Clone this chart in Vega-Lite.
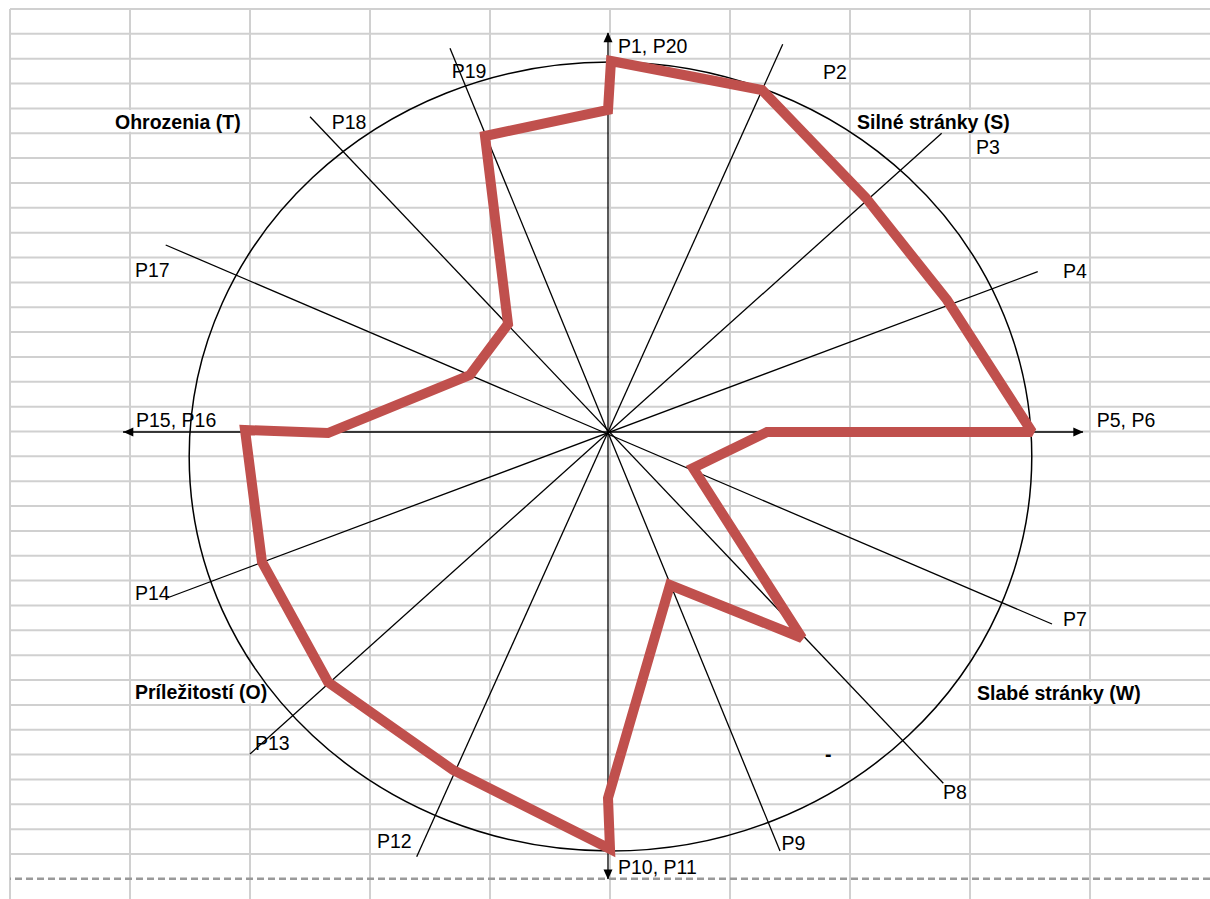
{
  "$schema": "https://vega.github.io/schema/vega-lite/v6.json",
  "width": 1200,
  "height": 890,
  "autosize": {"type": "none"},
  "padding": {"left": 10, "top": 9, "right": 0, "bottom": 0},
  "background": "white",
  "config": {"view": {"stroke": null}},
  "datasets": {
    "gridCols": [{"col": 0}, {"col": 1}, {"col": 2}, {"col": 3}, {"col": 4}, {"col": 5}, {"col": 6}, {"col": 7}, {"col": 8}, {"col": 9}],
    "gridRows": [{"row": 0}, {"row": 1}, {"row": 2}, {"row": 3}, {"row": 4}, {"row": 5}, {"row": 6}, {"row": 7}, {"row": 8}, {"row": 9}, {"row": 10}, {"row": 11}, {"row": 12}, {"row": 13}, {"row": 14}, {"row": 15}, {"row": 16}, {"row": 17}, {"row": 18}, {"row": 19}, {"row": 20}, {"row": 21}, {"row": 22}, {"row": 23}, {"row": 24}, {"row": 25}, {"row": 26}, {"row": 27}, {"row": 28}, {"row": 29}, {"row": 30}, {"row": 31}, {"row": 32}, {"row": 33}, {"row": 34}],
    "dashRows": [{"row": 35}],
    "masks": [
      {"c0": 0.875, "c1": 1.975, "r0": 4.06, "r1": 4.94},
      {"c0": 7.058, "c1": 8.35, "r0": 4.06, "r1": 4.94},
      {"c0": 1.0417, "c1": 2.183, "r0": 27.06, "r1": 27.94},
      {"c0": 8.058, "c1": 9.433, "r0": 27.06, "r1": 27.94}
    ],
    "pointLabels": [
      {"label": "P1, P20", "col": 5.0667, "row": 1.7704},
      {"label": "P2", "col": 6.775, "row": 2.8166},
      {"label": "P3", "col": 8.05, "row": 5.8343},
      {"label": "P4", "col": 8.775, "row": 10.8116},
      {"label": "P5, P6", "col": 9.0558, "row": 16.8068},
      {"label": "P7", "col": 8.775, "row": 24.826},
      {"label": "P8", "col": 7.775, "row": 31.799},
      {"label": "P9", "col": 6.4292, "row": 33.839},
      {"label": "P10, P11", "col": 5.0667, "row": 34.817},
      {"label": "P12", "col": 3.0583, "row": 33.77},
      {"label": "P13", "col": 2.0417, "row": 29.815},
      {"label": "P14", "col": 1.0417, "row": 23.78},
      {"label": "P15, P16", "col": 1.05, "row": 16.807},
      {"label": "P17", "col": 1.0417, "row": 10.796},
      {"label": "P18", "col": 2.6808, "row": 4.8284},
      {"label": "P19", "col": 3.6808, "row": 2.7884}
    ],
    "quadrantLabels": [
      {"label": "Ohrozenia (T)", "col": 0.875, "row": 4.8405},
      {"label": "Silné stránky (S)", "col": 7.0583, "row": 4.8284},
      {"label": "Príležitostí (O)", "col": 1.0417, "row": 27.775},
      {"label": "Slabé stránky (W)", "col": 8.0583, "row": 27.8034},
      {"label": "-", "col": 6.7917, "row": 30.278}
    ],
    "ellipse": [{"x": 0.0059, "y": -0.0659}],
    "spokes": [
      {"name": "P1-P10", "x": 0, "y": 1.0726, "x2": 0, "y2": -1.2016},
      {"name": "P5-P15", "x": -1.152, "y": 0, "x2": 1.1283, "y2": 0},
      {"name": "P2-P12", "x": 0.415, "y": 1.0422, "x2": -0.4544, "y2": -1.1417},
      {"name": "P3-P13", "x": 0.7926, "y": 0.803, "x2": -0.8504, "y2": -0.8656},
      {"name": "P4-P14", "x": 1.0207, "y": 0.4309, "x2": -1.0475, "y2": -0.4462},
      {"name": "P7-P17", "x": 1.0546, "y": -0.5161, "x2": -1.0506, "y2": 0.5027},
      {"name": "P8-P18", "x": 0.7965, "y": -0.9444, "x2": -0.7078, "y2": 0.8476},
      {"name": "P9-P19", "x": 0.4086, "y": -1.1263, "x2": -0.3753, "y2": 1.0315}
    ],
    "arrows": [
      {"dir": "up", "x": 0, "y": 1.061},
      {"dir": "down", "x": 0, "y": -1.1895},
      {"dir": "right", "x": 1.1171, "y": 0},
      {"dir": "left", "x": -1.1394, "y": 0}
    ],
    "polygon": [
      {"i": 1, "p": "P1", "x": 0.0071, "y": 0.9973},
      {"i": 2, "p": "P2", "x": 0.3658, "y": 0.9194},
      {"i": 3, "p": "P3", "x": 0.6128, "y": 0.629},
      {"i": 4, "p": "P4", "x": 0.8052, "y": 0.3548},
      {"i": 5, "p": "P5", "x": 1.0071, "y": 0},
      {"i": 6, "p": "P6", "x": 0.3777, "y": 0},
      {"i": 7, "p": "P7", "x": 0.2019, "y": -0.0968},
      {"i": 8, "p": "P8", "x": 0.4608, "y": -0.5538},
      {"i": 9, "p": "P9", "x": 0.1473, "y": -0.4113},
      {"i": 10, "p": "P10", "x": 0, "y": -0.9839},
      {"i": 11, "p": "P11", "x": 0.0048, "y": -1.121},
      {"i": 12, "p": "P12", "x": -0.3682, "y": -0.9086},
      {"i": 13, "p": "P13", "x": -0.6651, "y": -0.672},
      {"i": 14, "p": "P14", "x": -0.8219, "y": -0.3495},
      {"i": 15, "p": "P15", "x": -0.8622, "y": 0.0054},
      {"i": 16, "p": "P16", "x": -0.6651, "y": -0.0027},
      {"i": 17, "p": "P17", "x": -0.3278, "y": 0.1532},
      {"i": 18, "p": "P18", "x": -0.2375, "y": 0.2903},
      {"i": 19, "p": "P19", "x": -0.2922, "y": 0.7957},
      {"i": 20, "p": "P20", "x": 0, "y": 0.8656}
    ]
  },
  "resolve": {"scale": {"x": "independent", "y": "independent"}},
  "layer": [
    {
      "layer": [
        {
          "data": {"name": "gridCols"},
          "mark": {"type": "rule", "color": "#d0d0d0", "strokeWidth": 2},
          "encoding": {
            "x": {"field": "col", "type": "quantitative", "scale": {"domain": [0, 10], "nice": false, "zero": false}, "axis": null}
          }
        },
        {
          "data": {"name": "gridRows"},
          "mark": {"type": "rule", "color": "#d0d0d0", "strokeWidth": 2},
          "encoding": {
            "y": {"field": "row", "type": "quantitative", "scale": {"domain": [0, 35.8106], "nice": false, "zero": false, "reverse": true}, "axis": null}
          }
        },
        {
          "data": {"name": "dashRows"},
          "mark": {"type": "rule", "color": "#9a9a9a", "strokeWidth": 2.5, "strokeDash": [7, 4]},
          "encoding": {
            "y": {"field": "row", "type": "quantitative", "scale": {"domain": [0, 35.8106], "nice": false, "zero": false, "reverse": true}, "axis": null}
          }
        },
        {
          "data": {"name": "masks"},
          "mark": {"type": "rect", "color": "white"},
          "encoding": {
            "x": {"field": "c0", "type": "quantitative", "scale": {"domain": [0, 10], "nice": false, "zero": false}, "axis": null},
            "x2": {"field": "c1"},
            "y": {"field": "r0", "type": "quantitative", "scale": {"domain": [0, 35.8106], "nice": false, "zero": false, "reverse": true}, "axis": null},
            "y2": {"field": "r1"}
          }
        },
        {
          "data": {"name": "pointLabels"},
          "mark": {"type": "text", "align": "left", "baseline": "alphabetic", "font": "Liberation Sans", "fontSize": 19.5, "color": "black"},
          "encoding": {
            "x": {"field": "col", "type": "quantitative", "scale": {"domain": [0, 10], "nice": false, "zero": false}, "axis": null},
            "y": {"field": "row", "type": "quantitative", "scale": {"domain": [0, 35.8106], "nice": false, "zero": false, "reverse": true}, "axis": null},
            "text": {"field": "label", "type": "nominal"}
          }
        },
        {
          "data": {"name": "quadrantLabels"},
          "mark": {"type": "text", "align": "left", "baseline": "alphabetic", "font": "Liberation Sans", "fontSize": 19.5, "fontWeight": "bold", "color": "black"},
          "encoding": {
            "x": {"field": "col", "type": "quantitative", "scale": {"domain": [0, 10], "nice": false, "zero": false}, "axis": null},
            "y": {"field": "row", "type": "quantitative", "scale": {"domain": [0, 35.8106], "nice": false, "zero": false, "reverse": true}, "axis": null},
            "text": {"field": "label", "type": "nominal"}
          }
        }
      ]
    },
    {
      "layer": [
        {
          "data": {"name": "ellipse"},
          "mark": {"type": "point", "shape": "M1,0C1,0.5172 0.5523,0.9364 0,0.9364C-0.5523,0.9364 -1,0.5172 -1,0C-1,-0.5172 -0.5523,-0.9364 0,-0.9364C0.5523,-0.9364 1,-0.5172 1,0Z", "size": 709975, "filled": false, "stroke": "black", "strokeWidth": 1.5, "opacity": 1},
          "encoding": {
            "x": {"field": "x", "type": "quantitative", "scale": {"domain": [-1.420428, 1.429929], "nice": false, "zero": false}, "axis": null},
            "y": {"field": "y", "type": "quantitative", "scale": {"domain": [-1.255376, 1.137097], "nice": false, "zero": false}, "axis": null}
          }
        },
        {
          "data": {"name": "spokes"},
          "mark": {"type": "rule", "color": "black", "strokeWidth": 1.3},
          "encoding": {
            "x": {"field": "x", "type": "quantitative", "scale": {"domain": [-1.420428, 1.429929], "nice": false, "zero": false}, "axis": null},
            "y": {"field": "y", "type": "quantitative", "scale": {"domain": [-1.255376, 1.137097], "nice": false, "zero": false}, "axis": null},
            "x2": {"field": "x2"},
            "y2": {"field": "y2"}
          }
        },
        {
          "data": {"name": "arrows"},
          "mark": {"type": "point", "filled": true, "color": "black", "size": 100, "opacity": 1, "strokeWidth": 0},
          "encoding": {
            "x": {"field": "x", "type": "quantitative", "scale": {"domain": [-1.420428, 1.429929], "nice": false, "zero": false}, "axis": null},
            "y": {"field": "y", "type": "quantitative", "scale": {"domain": [-1.255376, 1.137097], "nice": false, "zero": false}, "axis": null},
            "shape": {"field": "dir", "type": "nominal", "legend": null, "scale": {"domain": ["up", "down", "left", "right"], "range": ["M0,-1L0.9,1L-0.9,1Z", "M0,1L0.9,-1L-0.9,-1Z", "M-1,0L1,-0.9L1,0.9Z", "M1,0L-1,-0.9L-1,0.9Z"]}}
          }
        },
        {
          "data": {"name": "polygon"},
          "mark": {"type": "line", "color": "#C0504D", "strokeWidth": 10, "interpolate": "linear-closed", "strokeJoin": "miter", "strokeMiterLimit": 2},
          "encoding": {
            "x": {"field": "x", "type": "quantitative", "scale": {"domain": [-1.420428, 1.429929], "nice": false, "zero": false}, "axis": null},
            "y": {"field": "y", "type": "quantitative", "scale": {"domain": [-1.255376, 1.137097], "nice": false, "zero": false}, "axis": null},
            "order": {"field": "i", "type": "quantitative"}
          }
        }
      ]
    }
  ]
}
